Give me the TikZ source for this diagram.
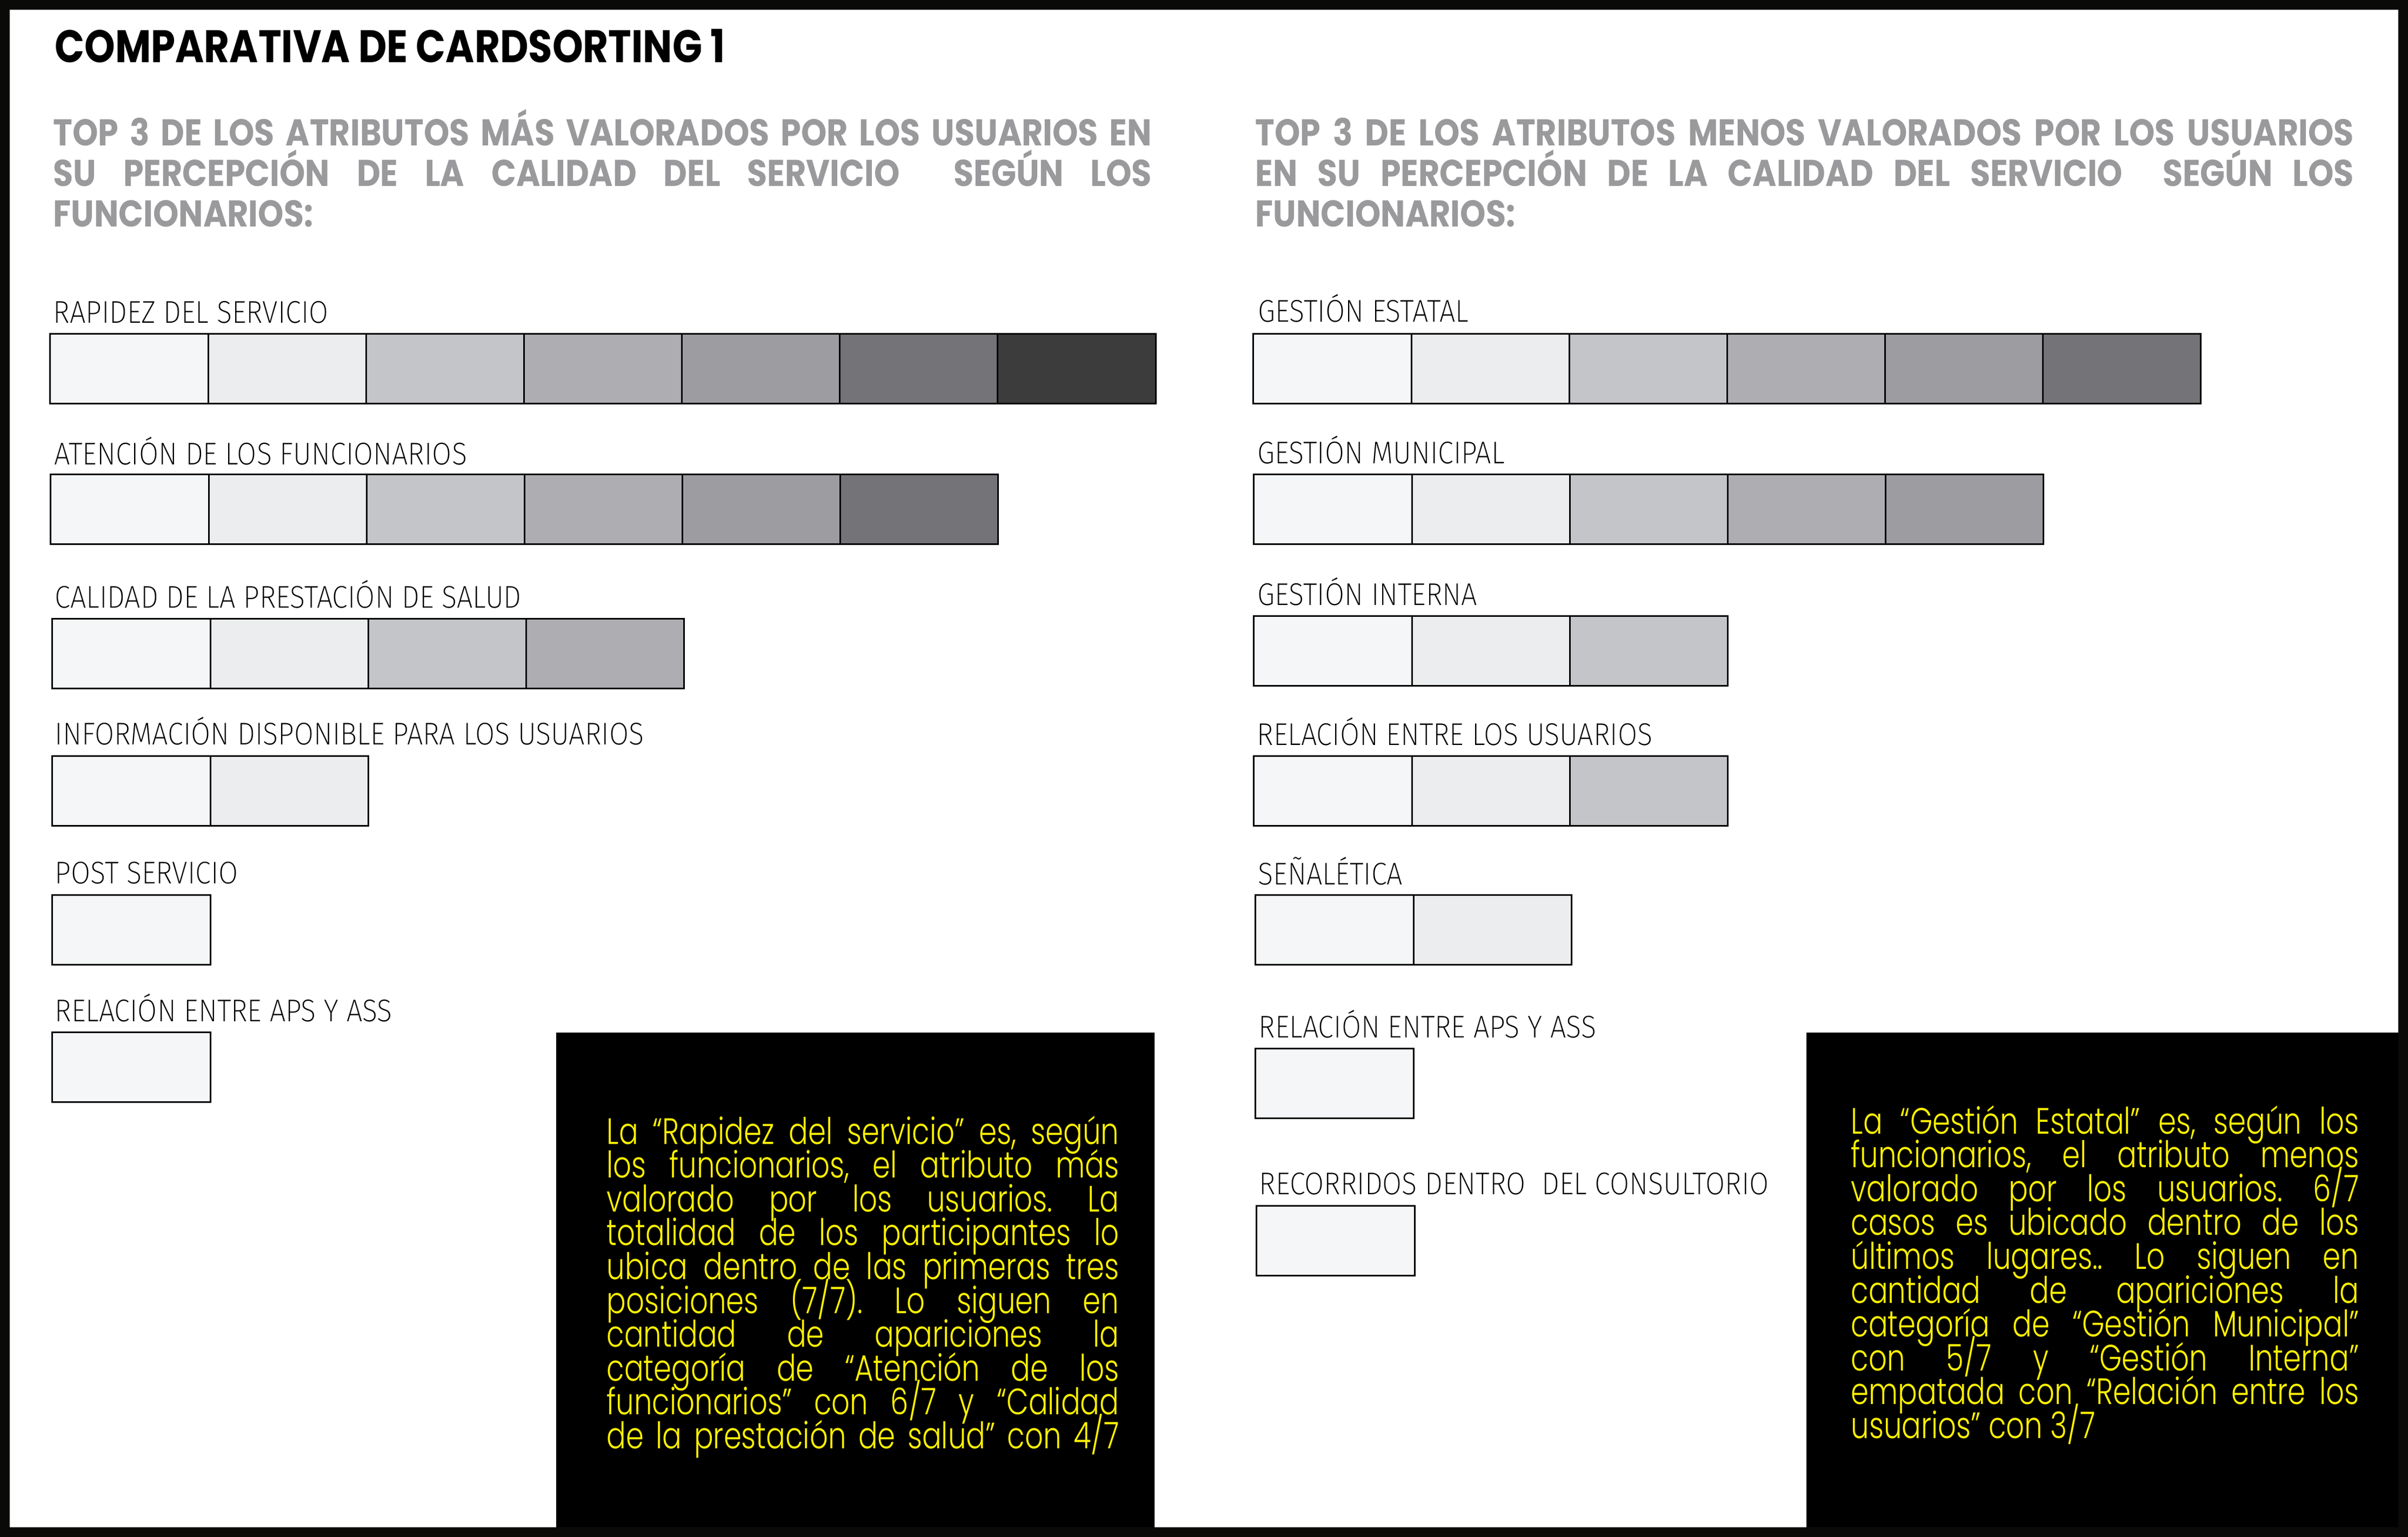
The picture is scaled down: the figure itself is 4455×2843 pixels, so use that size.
\documentclass[tikz,border=0pt]{standalone}
\usepackage{fontspec}
\newfontfamily\titlefont{Poppins}[FakeStretch=0.855]
\newfontfamily\subfont{Poppins}[FakeStretch=0.875]
\newfontfamily\lblfont{Fira Sans ExtraLight}[FakeStretch=0.9]
\newfontfamily\notafont{Poppins Light}[FakeStretch=0.78]
\newcommand\notastyle{\notafont\fontsize{19.3}{17.8}\selectfont\lineskip=0pt\lineskiplimit=-\maxdimen\relax}
\definecolor{g1}{HTML}{F5F6F7}
\definecolor{g2}{HTML}{ECEDEE}
\definecolor{g3}{HTML}{C4C5C9}
\definecolor{g4}{HTML}{AEADB2}
\definecolor{g5}{HTML}{9D9CA1}
\definecolor{g6}{HTML}{747378}
\definecolor{g7}{HTML}{3C3C3C}
\definecolor{subgray}{HTML}{9A9A9D}
\definecolor{notayellow}{HTML}{FFF200}
\definecolor{frameblack}{HTML}{0A0A08}
\tolerance=10000 \hbadness=10000 \hyphenpenalty=10000
\frenchspacing
\tikzstyle{cell} = [rectangle, draw=black, line width=0.03cm, minimum width=2.92cm, minimum height=1.28cm, inner sep=0]
\tikzstyle{lbl} = [anchor=base west, inner sep=0, font=\lblfont\fontsize{16.5}{18}\selectfont]
\tikzstyle{titulo} = [anchor=base west, inner sep=0, font=\titlefont\bfseries\fontsize{24}{26}\selectfont]
\tikzstyle{subtitle} = [anchor=base west, inner sep=0, text width=20.31cm, align=justify, text=subgray, font=\subfont\bfseries\fontsize{19.6}{21.3}\selectfont]
\tikzstyle{panel} = [rectangle, fill=black, inner sep=0, anchor=north west]
\tikzstyle{nota} = [anchor=base west, inner sep=0, text=notayellow, align=justify, font=\notastyle]
\tikzstyle{frame} = [draw=frameblack, line width=0.18cm]
\begin{document}
\begin{tikzpicture}[x=0.01cm, y=-0.01cm, node distance=2.92cm]
\useasboundingbox (0,0) rectangle (4455,2843);

\node (titulo) [titulo] at (101,116) {COMPARATIVA DE CARDSORTING 1};
\node (subMas) [subtitle] at (98,270) {TOP 3 DE LOS ATRIBUTOS MÁS VALORADOS POR LOS USUARIOS EN\linebreak SU PERCEPCIÓN DE LA CALIDAD DEL SERVICIO \ SEGÚN LOS\linebreak FUNCIONARIOS:};
\node (subMenos) [subtitle] at (2322,270) {TOP 3 DE LOS ATRIBUTOS MENOS VALORADOS POR LOS USUARIOS\linebreak EN SU PERCEPCIÓN DE LA CALIDAD DEL SERVICIO \ SEGÚN LOS\linebreak FUNCIONARIOS:};

% mas valorados
\node (lblRap) [lbl] at (98,597) {RAPIDEZ DEL SERVICIO};
\node (rap1) [cell, fill=g1] at (239,682) {};
\node (rap2) [cell, fill=g2, right of=rap1] {};
\node (rap3) [cell, fill=g3, right of=rap2] {};
\node (rap4) [cell, fill=g4, right of=rap3] {};
\node (rap5) [cell, fill=g5, right of=rap4] {};
\node (rap6) [cell, fill=g6, right of=rap5] {};
\node (rap7) [cell, fill=g7, right of=rap6] {};

\node (lblAten) [lbl] at (100,859) {ATENCIÓN DE LOS FUNCIONARIOS};
\node (aten1) [cell, fill=g1] at (240,942) {};
\node (aten2) [cell, fill=g2, right of=aten1] {};
\node (aten3) [cell, fill=g3, right of=aten2] {};
\node (aten4) [cell, fill=g4, right of=aten3] {};
\node (aten5) [cell, fill=g5, right of=aten4] {};
\node (aten6) [cell, fill=g6, right of=aten5] {};

\node (lblCal) [lbl] at (101,1124) {CALIDAD DE LA PRESTACIÓN DE SALUD};
\node (cal1) [cell, fill=g1] at (243,1209) {};
\node (cal2) [cell, fill=g2, right of=cal1] {};
\node (cal3) [cell, fill=g3, right of=cal2] {};
\node (cal4) [cell, fill=g4, right of=cal3] {};

\node (lblInfo) [lbl] at (101,1377) {INFORMACIÓN DISPONIBLE PARA LOS USUARIOS};
\node (info1) [cell, fill=g1] at (243,1463) {};
\node (info2) [cell, fill=g2, right of=info1] {};

\node (lblPost) [lbl] at (101,1634) {POST SERVICIO};
\node (post1) [cell, fill=g1] at (243,1720) {};

\node (lblApsL) [lbl] at (101,1889) {RELACIÓN ENTRE APS Y ASS};
\node (apsL1) [cell, fill=g1] at (243,1974) {};

% menos valorados
\node (lblEstatal) [lbl] at (2327,596) {GESTIÓN ESTATAL};
\node (estatal1) [cell, fill=g1] at (2465,682) {};
\node (estatal2) [cell, fill=g2, right of=estatal1] {};
\node (estatal3) [cell, fill=g3, right of=estatal2] {};
\node (estatal4) [cell, fill=g4, right of=estatal3] {};
\node (estatal5) [cell, fill=g5, right of=estatal4] {};
\node (estatal6) [cell, fill=g6, right of=estatal5] {};

\node (lblMunic) [lbl] at (2326,857) {GESTIÓN MUNICIPAL};
\node (munic1) [cell, fill=g1] at (2466,942) {};
\node (munic2) [cell, fill=g2, right of=munic1] {};
\node (munic3) [cell, fill=g3, right of=munic2] {};
\node (munic4) [cell, fill=g4, right of=munic3] {};
\node (munic5) [cell, fill=g5, right of=munic4] {};

\node (lblInterna) [lbl] at (2326,1119) {GESTIÓN INTERNA};
\node (interna1) [cell, fill=g1] at (2466,1204) {};
\node (interna2) [cell, fill=g2, right of=interna1] {};
\node (interna3) [cell, fill=g3, right of=interna2] {};

\node (lblRelUs) [lbl] at (2325,1378) {RELACIÓN ENTRE LOS USUARIOS};
\node (relUs1) [cell, fill=g1] at (2466,1463) {};
\node (relUs2) [cell, fill=g2, right of=relUs1] {};
\node (relUs3) [cell, fill=g3, right of=relUs2] {};

\node (lblSenal) [lbl] at (2327,1636) {SEÑALÉTICA};
\node (senal1) [cell, fill=g1] at (2469,1720) {};
\node (senal2) [cell, fill=g2, right of=senal1] {};

\node (lblApsR) [lbl] at (2328,1919) {RELACIÓN ENTRE APS Y ASS};
\node (apsR1) [cell, fill=g1] at (2469,2004) {};

\node (lblRecorr) [lbl] at (2329,2209) {RECORRIDOS DENTRO \ DEL CONSULTORIO};
\node (recorr1) [cell, fill=g1] at (2471,2295) {};

% cuadros de texto
\node (panelL) [panel, minimum width=11.07cm, minimum height=9.34cm] at (1028,1909) {};
\node (panelR) [panel, minimum width=11.14cm, minimum height=9.34cm] at (3341,1909) {};
\node (notaL) [nota, text width=9.47cm] at (1122,2116) {La “Rapidez del servicio” es, según\linebreak los funcionarios, el atributo más\linebreak valorado por los usuarios. La\linebreak totalidad de los participantes lo\linebreak ubica dentro de las primeras tres\linebreak posiciones (7/7). Lo siguen en\linebreak cantidad de apariciones la\linebreak categoría de “Atención de los\linebreak funcionarios” con 6/7 y “Calidad\linebreak de la prestación de salud” con 4/7\parfillskip=0pt\par};
\node (notaR) [nota, text width=9.39cm] at (3424,2097) {La “Gestión Estatal” es, según los\linebreak funcionarios, el atributo menos\linebreak valorado por los usuarios. 6/7\linebreak casos es ubicado dentro de los\linebreak últimos lugares.. Lo siguen en\linebreak cantidad de apariciones la\linebreak categoría de “Gestión Municipal”\linebreak con 5/7 y “Gestión Interna”\linebreak empatada con “Relación entre los\linebreak usuarios” con 3/7};

\draw [frame] (9,9) rectangle (4446,2834);
\end{tikzpicture}
\end{document}
